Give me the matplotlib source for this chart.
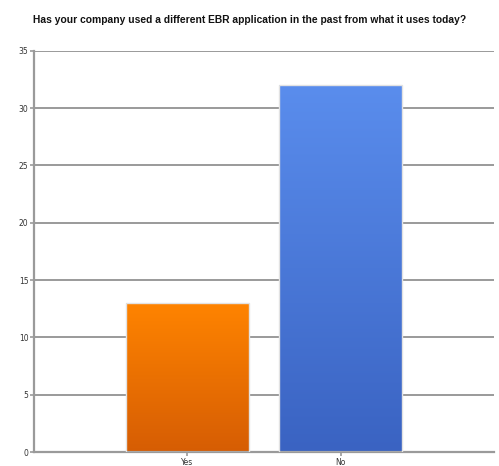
import numpy as np
import matplotlib
matplotlib.use("Agg")
import matplotlib.pyplot as plt
from matplotlib.colors import LinearSegmentedColormap

categories = ["Yes", "No"]
counts = [13, 32]
top_colors = ["#ff8400", "#5a8ded"]
bottom_colors = ["#d65d04", "#3a63c2"]
y_ticks = [0, 5, 10, 15, 20, 25, 30, 35]
title = "Has your company used a different EBR application in the past from what it uses today?"

fig = plt.figure(figsize=(4.99, 4.66), dpi=100)
ax = fig.add_axes([0.068, 0.030, 0.922, 0.861])

x = np.arange(len(categories))
bars = ax.bar(x, counts, width=0.8, color="none", edgecolor="#e2e2e2",
              linewidth=1.0, zorder=3)

grad = np.linspace(1, 0, 256).reshape(-1, 1)
for bar, c_top, c_bot in zip(bars, top_colors, bottom_colors):
    cmap = LinearSegmentedColormap.from_list("g", [c_bot, c_top])
    x0 = bar.get_x()
    w = bar.get_width()
    h = bar.get_height()
    im = ax.imshow(grad, cmap=cmap, aspect="auto", origin="upper",
                   extent=[x0, x0 + w, 0, h], zorder=2.5, vmin=0, vmax=1)
    im.set_clip_path(bar)

ax.set_xlim(-1, 2)
ax.set_ylim(0, 35)
ax.set_yticks(y_ticks)
ax.set_xticks(x)
ax.set_xticklabels(categories)
ax.yaxis.grid(True, color="#9a9a9a", linewidth=1.4, zorder=1)
ax.set_axisbelow(True)

for side in ["top", "right"]:
    ax.spines[side].set_visible(False)
for side in ["left", "bottom"]:
    ax.spines[side].set_color("#9a9a9a")
    ax.spines[side].set_linewidth(1.6)

ax.tick_params(axis="both", labelsize=5.5, colors="#9a9a9a", labelcolor="#333333",
               length=3, width=1.2, pad=1)

fig.text(0.5, 0.957, title, ha="center", va="center", fontsize=7.4,
         fontweight="bold", family="Liberation Sans", color="#111111")

fig.savefig("out.png", dpi=100)
